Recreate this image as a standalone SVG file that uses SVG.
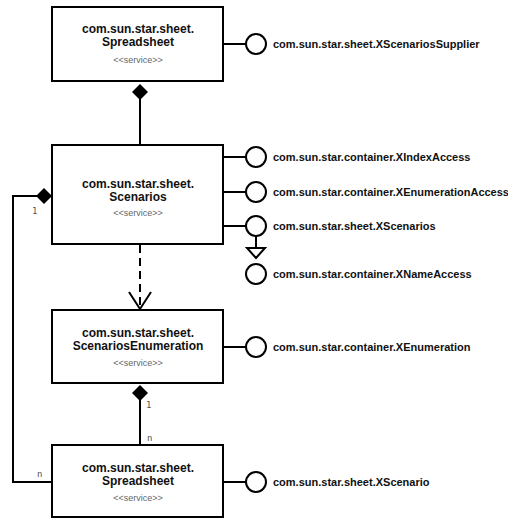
<svg xmlns="http://www.w3.org/2000/svg" width="508" height="519" viewBox="0 0 508 519">
<style>
.box{fill:#fff;stroke:#000;stroke-width:2}
.t{font-family:"Liberation Sans",Arial,sans-serif;font-weight:bold;font-size:12px;fill:#111;text-anchor:middle}
.s{font-family:"Liberation Sans",Arial,sans-serif;font-size:9px;fill:#666;text-anchor:middle}
.l{font-family:"Liberation Sans",Arial,sans-serif;font-weight:bold;font-size:11px;fill:#111}
.m{font-family:"DejaVu Sans Mono",monospace;font-size:9px;fill:#555}
.ln{fill:none;stroke:#000;stroke-width:2}
.ball{fill:#fff;stroke:#000;stroke-width:2}
.dia{fill:#000;stroke:none}
</style>
<rect width="508" height="519" fill="#fff"/>
<g id="connectors">
  <!-- Spreadsheet(top) to Scenarios composition -->
  <line class="ln" x1="140" y1="98" x2="140" y2="145"/>
  <path class="dia" d="M140,84 L148,92 L140,100 L132,92 Z"/>
  <!-- dashed dependency -->
  <line class="ln" x1="140" y1="245" x2="140" y2="308" stroke-dasharray="8,5"/>
  <path class="ln" d="M129,292 L140,309 L151,292"/>
  <!-- ScenariosEnumeration to Spreadsheet -->
  <line class="ln" x1="140" y1="400" x2="140" y2="445"/>
  <path class="dia" d="M140,385 L148,393 L140,401 L132,393 Z"/>
  <text class="m" x="146" y="408">1</text>
  <text class="m" x="147" y="441">n</text>
  <!-- Scenarios to Spreadsheet (left) -->
  <path class="ln" d="M37,196 L13,196 L13,482 L52,482"/>
  <path class="dia" d="M36,196 L44,188 L52,196 L44,204 Z"/>
  <text class="m" x="32" y="214">1</text>
  <text class="m" x="37" y="477">n</text>
</g>
<g id="node-spreadsheet-top">
  <rect class="box" x="52" y="7" width="171" height="74"/>
  <text class="t" x="138" y="33">com.sun.star.sheet.</text>
  <text class="t" x="138" y="46">Spreadsheet</text>
  <text class="s" x="138" y="63">&lt;&lt;service&gt;&gt;</text>
</g>
<g id="if-xscenariossupplier">
  <line class="ln" x1="223" y1="44" x2="246" y2="44"/>
  <circle class="ball" cx="256" cy="44" r="10"/>
  <text class="l" x="273" y="48">com.sun.star.sheet.XScenariosSupplier</text>
</g>
<g id="node-scenarios">
  <rect class="box" x="52" y="145" width="171" height="99"/>
  <text class="t" x="138" y="188">com.sun.star.sheet.</text>
  <text class="t" x="138" y="201">Scenarios</text>
  <text class="s" x="138" y="216">&lt;&lt;service&gt;&gt;</text>
</g>
<g id="if-xindexaccess">
  <line class="ln" x1="223" y1="157" x2="246" y2="157"/>
  <circle class="ball" cx="256" cy="157" r="10"/>
  <text class="l" x="273" y="161">com.sun.star.container.XIndexAccess</text>
</g>
<g id="if-xenumerationaccess">
  <line class="ln" x1="223" y1="192" x2="246" y2="192"/>
  <circle class="ball" cx="256" cy="192" r="10"/>
  <text class="l" x="273" y="196">com.sun.star.container.XEnumerationAccess</text>
</g>
<g id="if-xscenarios">
  <line class="ln" x1="223" y1="226" x2="246" y2="226"/>
  <circle class="ball" cx="256" cy="226" r="10"/>
  <text class="l" x="273" y="230">com.sun.star.sheet.XScenarios</text>
  <line class="ln" x1="256" y1="236" x2="256" y2="248"/>
  <path class="ln" d="M247,248 L265,248 L256,258 Z" fill="#fff"/>
</g>
<g id="if-xnameaccess">
  <circle class="ball" cx="256" cy="274" r="10"/>
  <text class="l" x="273" y="278">com.sun.star.container.XNameAccess</text>
</g>
<g id="node-scenariosenumeration">
  <rect class="box" x="52" y="310" width="171" height="73"/>
  <text class="t" x="138" y="337">com.sun.star.sheet.</text>
  <text class="t" x="138" y="350">ScenariosEnumeration</text>
  <text class="s" x="138" y="366">&lt;&lt;service&gt;&gt;</text>
</g>
<g id="if-xenumeration">
  <line class="ln" x1="223" y1="347" x2="246" y2="347"/>
  <circle class="ball" cx="256" cy="347" r="10"/>
  <text class="l" x="273" y="351">com.sun.star.container.XEnumeration</text>
</g>
<g id="node-spreadsheet-bottom">
  <rect class="box" x="52" y="445" width="171" height="72"/>
  <text class="t" x="138" y="472">com.sun.star.sheet.</text>
  <text class="t" x="138" y="485">Spreadsheet</text>
  <text class="s" x="138" y="501">&lt;&lt;service&gt;&gt;</text>
</g>
<g id="if-xscenario">
  <line class="ln" x1="223" y1="482" x2="246" y2="482"/>
  <circle class="ball" cx="256" cy="482" r="10"/>
  <text class="l" x="273" y="486">com.sun.star.sheet.XScenario</text>
</g>
</svg>
